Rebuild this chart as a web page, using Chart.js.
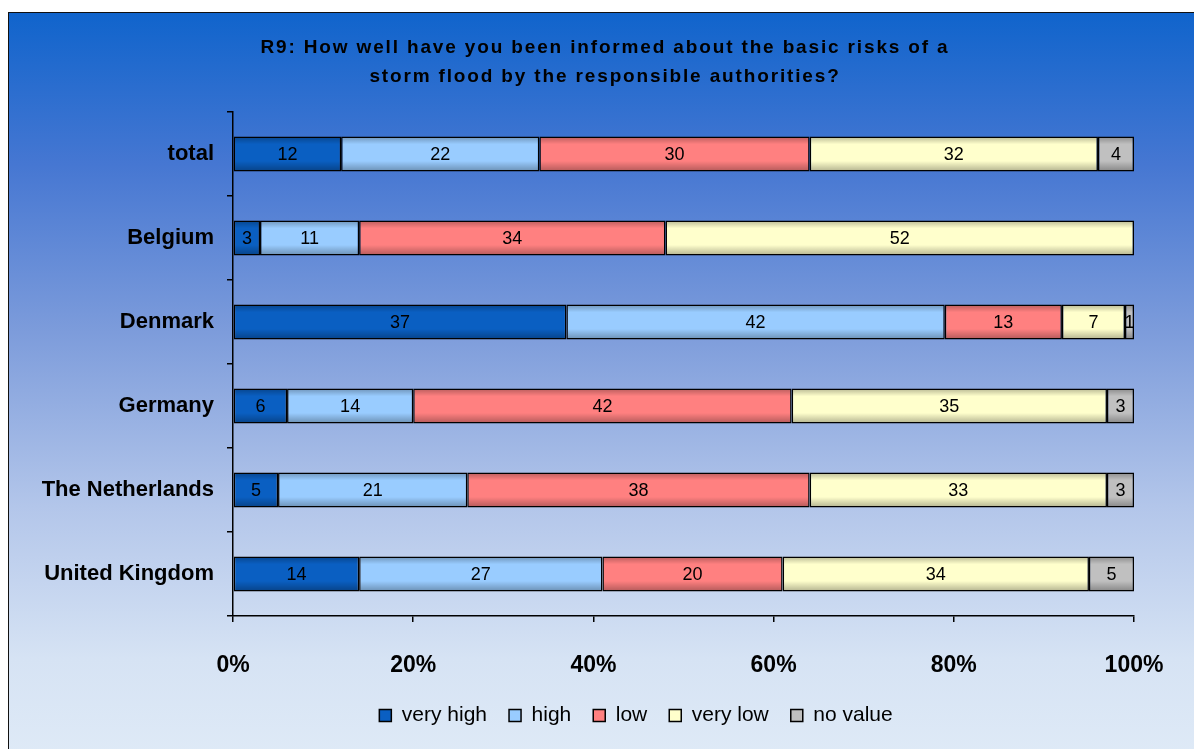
<!DOCTYPE html>
<html>
<head>
<meta charset="utf-8">
<script src="https://cdn.jsdelivr.net/npm/chart.js@4/dist/chart.umd.min.js"></script>
<style>
  html, body { margin: 0; padding: 0; background: #fff; }
  #frame {
    position: absolute; left: 8px; top: 12px; width: 1200px; height: 760px;
    border: 1.5px solid #111;
    background: linear-gradient(to bottom, #1064cc 0%, #4677d2 20%, #7d9cdb 42%, #b3c6ea 65%, #d6e3f4 85%, #e0ebf7 100%);
  }
  #wrap { position: absolute; left: 0; top: 0; width: 1194px; height: 749px; }
</style>
</head>
<body>
<div id="frame"></div>
<div id="wrap"><canvas id="chart"></canvas></div>
<script>
const titleLines = [
  'R9: How well have you been informed about the basic risks of a',
  'storm flood by the responsible authorities?'
];
const categories = ['total', 'Belgium', 'Denmark', 'Germany', 'The Netherlands', 'United Kingdom'];
const seriesNames = ['very high', 'high', 'low', 'very low', 'no value'];
const veryHigh = [12, 3, 37, 6, 5, 14];
const high = [22, 11, 42, 14, 21, 27];
const low = [30, 34, 13, 42, 38, 20];
const veryLow = [32, 52, 7, 35, 33, 34];
const noValue = [4, 0, 1, 3, 3, 5];
const xTicks = [0, 20, 40, 60, 80, 100];

const colors = ['#0a5fc2', '#99ccff', '#ff8080', '#ffffcc', '#c0c0c0'];
const allSeries = [veryHigh, high, low, veryLow, noValue];
const FONT = '"Liberation Sans", Arial, sans-serif';

// shading + value labels drawn over the bars
const barLabels = {
  id: 'barLabels',
  afterDatasetsDraw(chart) {
    const c = chart.ctx;
    chart.data.datasets.forEach((ds, i) => {
      const meta = chart.getDatasetMeta(i);
      meta.data.forEach((bar, j) => {
        if (!ds.data[j]) return;
        const left = Math.min(bar.x, bar.base), right = Math.max(bar.x, bar.base);
        const top = bar.y - bar.height / 2, h = bar.height;
        const g = c.createLinearGradient(0, top, 0, top + h);
        g.addColorStop(0, 'rgba(0,0,0,0.28)');
        g.addColorStop(0.22, 'rgba(0,0,0,0)');
        g.addColorStop(0.7, 'rgba(0,0,0,0)');
        g.addColorStop(1, 'rgba(0,0,0,0.3)');
        c.save();
        c.fillStyle = g;
        c.fillRect(left + 1, top + 1, right - left - 2, h - 2);
        c.restore();
      });
    });
    c.save();
    c.font = '18px ' + FONT;
    c.fillStyle = '#000';
    c.textAlign = 'center';
    c.textBaseline = 'middle';
    chart.data.datasets.forEach((ds, i) => {
      const meta = chart.getDatasetMeta(i);
      meta.data.forEach((bar, j) => {
        const v = ds.data[j];
        if (!v) return;
        c.fillText(String(v), (bar.x + bar.base) / 2, bar.y + 1);
      });
    });
    c.restore();
  }
};

const titlePlugin = {
  id: 'titleText',
  afterDraw(chart) {
    const c = chart.ctx;
    c.save();
    c.font = 'bold 19px ' + FONT;
    c.letterSpacing = '1.85px';
    c.fillStyle = '#000';
    c.textAlign = 'center';
    c.textBaseline = 'middle';
    titleLines.forEach((t, k) => c.fillText(t, 605, 48 + k * 29));
    c.restore();
  }
};

// legend in the original sits a little right of the page centre
const legendShift = {
  id: 'legendShift',
  afterLayout(chart) {
    const lg = chart.legend;
    lg.left = 138;
    lg.width = lg.right - lg.left;
  }
};

new Chart(document.getElementById('chart'), {
  type: 'bar',
  data: {
    labels: categories,
    datasets: seriesNames.map((name, i) => ({
      label: name,
      data: allSeries[i],
      backgroundColor: colors[i],
      borderColor: '#000',
      borderWidth: 1.5,
      borderSkipped: false,
      barPercentage: 0.415,
      categoryPercentage: 1
    }))
  },
  options: {
    indexAxis: 'y',
    responsive: true,
    maintainAspectRatio: false,
    animation: false,
    layout: { padding: { top: 112, right: 60, bottom: 13, left: 0 } },
    plugins: {
      title: { display: false },
      tooltip: { enabled: false },
      legend: {
        position: 'bottom',
        labels: {
          color: '#000',
          font: { family: FONT, size: 21 },
          boxWidth: 12,
          boxHeight: 12,
          padding: 22,
          generateLabels(chart) {
            return chart.data.datasets.map((ds, i) => ({
              text: ds.label,
              fillStyle: colors[i],
              strokeStyle: '#000',
              lineWidth: 1.5,
              datasetIndex: i,
              fontColor: '#000'
            }));
          }
        }
      }
    },
    scales: {
      x: {
        stacked: true,
        min: 0,
        max: 100,
        afterBuildTicks(scale) { scale.ticks = xTicks.map(v => ({ value: v })); },
        afterFit(scale) { scale.height = 67; },
        border: { color: '#000', width: 1.5 },
        grid: { drawOnChartArea: false, color: '#000', tickLength: 6, lineWidth: 1.5 },
        ticks: {
          color: '#000',
          padding: 30,
          font: { family: FONT, size: 23, weight: 'bold' },
          callback: v => v + '%'
        }
      },
      y: {
        stacked: true,
        afterFit(scale) { scale.width = 233; },
        border: { color: '#000', width: 1.5 },
        grid: { drawOnChartArea: false, color: '#000', tickLength: 6, lineWidth: 1.5, offset: true },
        ticks: {
          color: '#000',
          padding: 13,
          font: { family: FONT, size: 22, weight: 'bold' }
        }
      }
    }
  },
  plugins: [barLabels, titlePlugin, legendShift]
});
</script>
</body>
</html>
